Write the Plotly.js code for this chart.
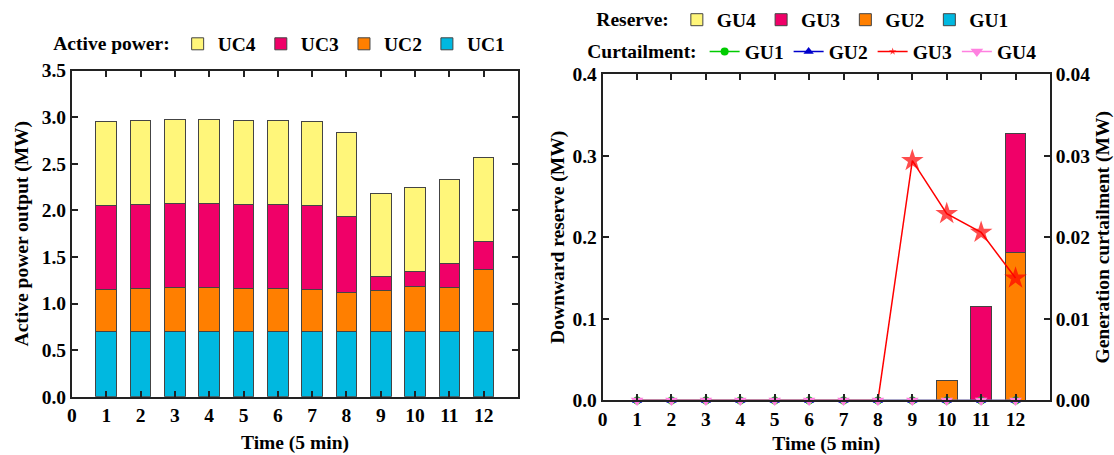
<!DOCTYPE html>
<html><head><meta charset="utf-8">
<script src="https://cdn.plot.ly/plotly-3.0.1.min.js"></script>
<style>body{margin:0;background:#fff}#chart{width:1114px;height:455px}</style>
</head><body><div id="chart"></div>
<script>
// ---- data ----
const time = [1,2,3,4,5,6,7,8,9,10,11,12];
const xTicks = [0,1,2,3,4,5,6,7,8,9,10,11,12];
// Active power (MW), individual stack segments
const uc1 = [0.70,0.70,0.70,0.70,0.70,0.70,0.70,0.70,0.70,0.70,0.70,0.70];
const uc2 = [0.45,0.46,0.47,0.47,0.46,0.46,0.45,0.42,0.44,0.48,0.47,0.67];
const uc3 = [0.90,0.90,0.90,0.90,0.90,0.90,0.90,0.81,0.15,0.16,0.26,0.30];
const uc4 = [0.90,0.90,0.90,0.90,0.90,0.90,0.90,0.91,0.89,0.90,0.90,0.90];
// Downward reserve (MW)
const gu1Res = [0,0,0,0,0,0,0,0,0,0,0,0];
const gu2Res = [0,0,0,0,0,0,0,0,0,0.025,0,0.181];
const gu3Res = [0,0,0,0,0,0,0,0,0,0,0.115,0.146];
const gu4Res = [0,0,0,0,0,0,0,0,0,0,0,0];
// Generation curtailment (MW)
const gu1Cur = [0,0,0,0,0,0,0,0,0,0,0,0];
const gu2Cur = [0,0,0,0,0,0,0,0,0,0,0,0];
const gu3Cur = [0,0,0,0,0,0,0,0,0.0294,0.0229,0.0206,0.0150];
const gu4Cur = [0,0,0,0,0,0,0,0,0,0,0,0];

const C = {yellow:'#FFF67A', magenta:'#F00068', orange:'#FF7F00', cyan:'#00B8E0'};
const FONT = 'Liberation Serif, Times New Roman, serif';
const FS = 19.5;
const edge = {color:'#444', width:1};

function bar(name, y, color, xa, ya, legend){
  return {type:'bar', name:name, x:time, y:y, xaxis:xa, yaxis:ya, width:0.6,
    marker:{color:color, line:edge}, legend:legend, hoverinfo:'skip'};
}
const traces = [
  bar('UC1', uc1, C.cyan, 'x', 'y', 'legend'),
  bar('UC2', uc2, C.orange, 'x', 'y', 'legend'),
  bar('UC3', uc3, C.magenta, 'x', 'y', 'legend'),
  bar('UC4', uc4, C.yellow, 'x', 'y', 'legend'),
  bar('GU1', gu1Res, C.cyan, 'x2', 'y2', 'legend2'),
  bar('GU2', gu2Res, C.orange, 'x2', 'y2', 'legend2'),
  bar('GU3', gu3Res, C.magenta, 'x2', 'y2', 'legend2'),
  bar('GU4', gu4Res, C.yellow, 'x2', 'y2', 'legend2'),
];
function line(name, y, color, symbol, size){
  return {type:'scatter', mode:'lines+markers', name:name, x:time, y:y,
    xaxis:'x2', yaxis:'y3', legend:'legend3', cliponaxis:false,
    line:{color:color, width:1.5},
    marker:{color:color, symbol:symbol, size:size, line:{width:0}}, hoverinfo:'skip'};
}
const starSizes = gu3Cur.map(v => v > 0 ? 17 : 0);
traces.push(line('GU1', gu1Cur, '#00CC00', 'circle', 8));
traces.push(line('GU2', gu2Cur, '#0000CC', 'triangle-up', 9));
traces.push(line('GU3', gu3Cur, '#FF0000', 'star', starSizes));
traces.push(line('GU4', gu4Cur, '#FF80E0', 'triangle-down', 11));

const tickFont = {family:FONT, size:FS, color:'#000', weight:'bold'};
const titleFont = {family:FONT, size:FS, color:'#000', weight:'bold'};
const axBase = {showline:true, linecolor:'#222', linewidth:2, ticks:'inside', ticklen:6,
  tickcolor:'#222', tickwidth:2, showgrid:false, zeroline:false, tickfont:tickFont, fixedrange:true};

const legBase = {orientation:'h', font:{family:FONT, size:FS, color:'#000', weight:'bold'},
  bgcolor:'rgba(0,0,0,0)', xanchor:'center', yanchor:'middle', itemclick:false};

const layout = {
  width:1114, height:455, margin:{l:0,r:0,t:0,b:0},
  paper_bgcolor:'#fff', plot_bgcolor:'#fff', barmode:'stack', showlegend:true,
  xaxis:Object.assign({}, axBase, {domain:[0.0646,0.465], range:[0,13], tickvals:xTicks,
    mirror:'ticks', anchor:'y', title:{text:'Time (5 min)', font:titleFont, standoff:10}}),
  yaxis:Object.assign({}, axBase, {domain:[0.128,0.845], range:[0,3.5], dtick:0.5, tickformat:'.1f',
    mirror:'ticks', anchor:'x', title:{text:'Active power output (MW)', font:titleFont, standoff:8}}),
  xaxis2:Object.assign({}, axBase, {domain:[0.541,0.9425], range:[0,13], tickvals:xTicks,
    mirror:'ticks', anchor:'y2', title:{text:'Time (5 min)', font:titleFont, standoff:8}}),
  yaxis2:Object.assign({}, axBase, {domain:[0.12,0.837], range:[0,0.4], dtick:0.1, tickformat:'.1f',
    anchor:'x2', title:{text:'Downward reserve (MW)', font:titleFont, standoff:3}}),
  yaxis3:Object.assign({}, axBase, {range:[0,0.04], dtick:0.01, tickformat:'.2f',
    overlaying:'y2', side:'right', anchor:'x2',
    title:{text:'Generation curtailment (MW)', font:titleFont, standoff:7}}),
  legend:Object.assign({}, legBase, {x:0.252, y:0.903, traceorder:'reversed',
    title:{text:'Active power:', side:'left', font:{family:FONT, size:FS, color:'#000', weight:'bold'}}}),
  legend2:Object.assign({}, legBase, {x:0.722, y:0.956, traceorder:'reversed',
    title:{text:'Reserve:', side:'left', font:{family:FONT, size:FS, color:'#000', weight:'bold'}}}),
  legend3:Object.assign({}, legBase, {x:0.73, y:0.886, traceorder:'normal',
    title:{text:'Curtailment:', side:'left', font:{family:FONT, size:FS, color:'#000', weight:'bold'}}})
};
Plotly.newPlot('chart', traces, layout, {displayModeBar:false, staticPlot:true});
</script>
</body></html>
